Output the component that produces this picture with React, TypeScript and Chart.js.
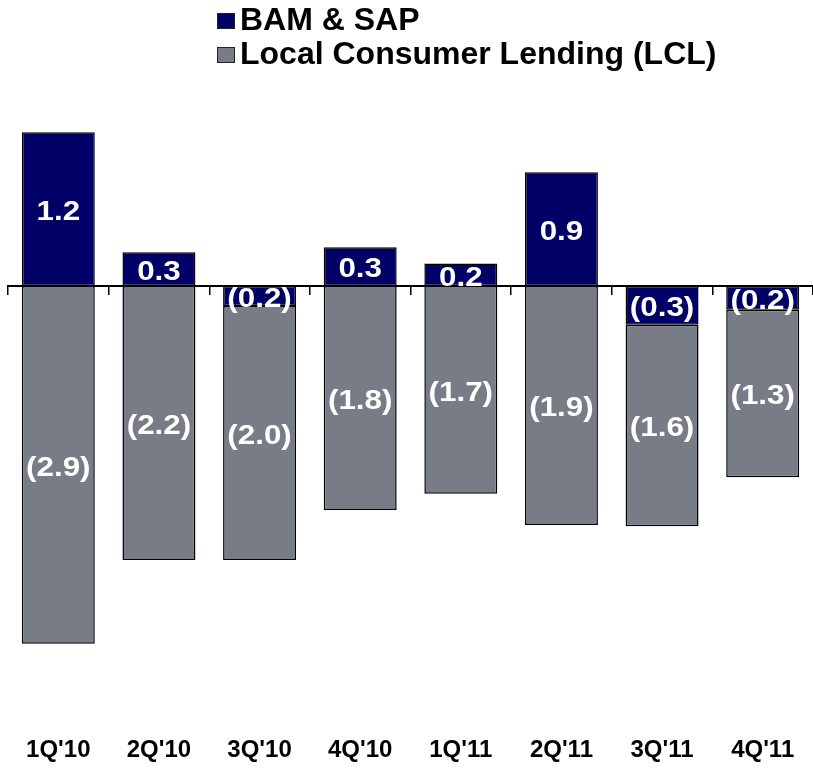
import React, { useEffect, useRef } from "react";
import { Chart, registerables } from "chart.js";

Chart.register(...registerables);

const categories = ["1Q'10", "2Q'10", "3Q'10", "4Q'10", "1Q'11", "2Q'11", "3Q'11", "4Q'11"];
const seriesNames = ["BAM & SAP", "Local Consumer Lending (LCL)"];
const bamSap = [1.23, 0.27, -0.16, 0.31, 0.18, 0.91, -0.31, -0.19];
const lcl = [-2.86, -2.19, -2.03, -1.79, -1.66, -1.91, -1.61, -1.34];
const seriesColors = ["#000066", "#787C86"];
const yMin = -3.5;
const yMax = 1.5;

const FONT = "'Liberation Sans', Arial, Helvetica, sans-serif";
const NARROW = "'Liberation Sans Narrow', 'Arial Narrow', 'Liberation Sans', Arial, sans-serif";

function fmt(v: number): string {
  const s = Math.abs(v).toFixed(1);
  return v < 0 ? `(${s})` : s;
}

const segLabels = {
  id: "segLabels",
  afterDraw(chart: any) {
    const ctx = chart.ctx;
    chart.data.datasets.forEach((ds: any, di: number) => {
      const meta = chart.getDatasetMeta(di);
      meta.data.forEach((el: any, i: number) => {
        const { x, y, base } = el.getProps(["x", "y", "base"], true);
        ctx.save();
        ctx.font = `bold 28px ${FONT}`;
        ctx.fillStyle = "#ffffff";
        ctx.textAlign = "center";
        ctx.textBaseline = "middle";
        ctx.translate(x, (y + base) / 2 + 3);
        ctx.scale(1.12, 1);
        ctx.fillText(fmt(ds.data[i]), 0, 0);
        ctx.restore();
      });
    });
  },
};

export default function App() {
  const canvasRef = useRef<HTMLCanvasElement | null>(null);

  useEffect(() => {
    if (!canvasRef.current) return;
    const chart = new Chart(canvasRef.current, {
      type: "bar",
      data: {
        labels: categories,
        datasets: [
          {
            label: seriesNames[0],
            data: bamSap,
            backgroundColor: seriesColors[0],
            borderColor: "#000000",
            borderWidth: 1.5,
            borderSkipped: false,
            categoryPercentage: 1,
            barPercentage: 0.725,
          },
          {
            label: seriesNames[1],
            data: lcl,
            backgroundColor: seriesColors[1],
            borderColor: "#000000",
            borderWidth: 1.5,
            borderSkipped: false,
            categoryPercentage: 1,
            barPercentage: 0.725,
          },
        ],
      },
      options: {
        animation: false,
        responsive: true,
        maintainAspectRatio: false,
        layout: { padding: { top: 98.5, bottom: -2.5, left: 8, right: 0 } },
        plugins: {
          legend: { display: false },
          tooltip: { enabled: false },
          title: { display: false },
        },
        scales: {
          x: {
            type: "category",
            position: { y: 0 } as any,
            stacked: true,
            offset: true,
            grid: {
              display: true,
              drawOnChartArea: false,
              drawTicks: true,
              tickLength: 8,
              color: "#000000",
              lineWidth: 1.5,
              offset: true,
            },
            border: { display: true, color: "#000000", width: 2 },
            ticks: { display: false },
          },
          x2: {
            type: "category",
            position: "bottom",
            offset: true,
            grid: { display: false, drawTicks: false },
            border: { display: false },
            ticks: {
              color: "#000000",
              padding: 12,
              maxRotation: 0,
              autoSkip: false,
              font: { family: NARROW, size: 24, weight: "bold" },
            },
          },
          y: {
            stacked: true,
            display: false,
            min: yMin,
            max: yMax,
          },
        },
      },
      plugins: [segLabels],
    } as any);
    return () => chart.destroy();
  }, []);

  return (
    <div style={{ position: "absolute", left: 0, top: 0, width: 813, height: 774, background: "#fff" }}>
      <canvas ref={canvasRef} />
      <div style={{ position: "absolute", left: 217, top: 2, fontFamily: FONT, fontWeight: "bold", fontSize: 32, color: "#000" }}>
        {seriesNames.map((name, i) => (
          <div key={name} style={{ display: "flex", alignItems: "center", height: 34, lineHeight: "34px", whiteSpace: "nowrap" }}>
            <span
              style={{
                display: "inline-block",
                width: 16,
                height: 14,
                marginTop: 4,
                marginRight: 5,
                background: seriesColors[i],
                border: "1.5px solid #222",
              }}
            />
            <span>{name}</span>
          </div>
        ))}
      </div>
    </div>
  );
}
